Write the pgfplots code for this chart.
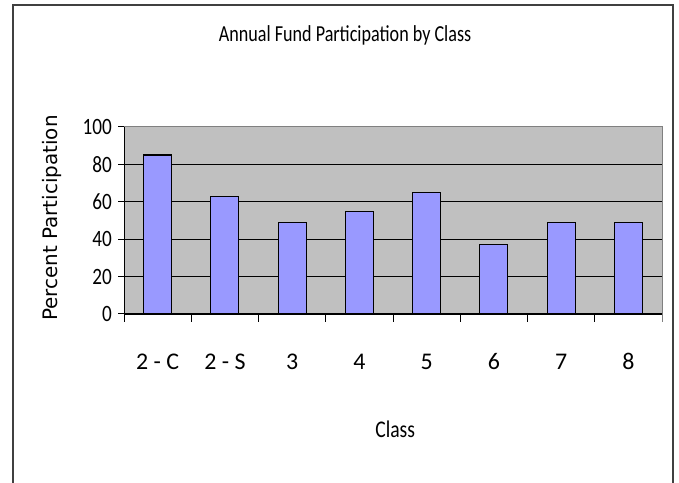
\documentclass[border=0pt]{standalone}
\usepackage{fontspec}
\setmainfont{Carlito}
\newfontfamily\condfont[FakeStretch=0.79]{Carlito}
\newfontfamily\midfont[FakeStretch=0.82]{Carlito}
\newfontfamily\verdfont{DejaVu Sans}
\usepackage{pgfplots}
\pgfplotsset{compat=1.18}
\definecolor{plotbg}{HTML}{C0C0C0}
\definecolor{barfill}{HTML}{9999FF}
\definecolor{framec}{HTML}{404040}
\begin{document}
\begin{tikzpicture}[x=1bp,y=1bp]
\useasboundingbox (0,0) rectangle (679,483);
\draw[framec, line width=2.2bp] (13,-5) -- (13,478) -- (673,478) -- (673,-5);
\begin{axis}[
  at={(124bp,169bp)}, anchor=south west,
  scale only axis, width=538bp, height=187bp,
  xmin=-0.5, xmax=7.5, ymin=0, ymax=100,
  axis x line*=bottom, axis y line*=left,
  axis line style={black, line width=1bp},
  axis background/.style={fill=plotbg, draw=gray, line width=1bp},
  xtick={0,...,7},
  xticklabels={2 - C, 2 - S, 3, 4, 5, 6, 7, 8},
  major x tick style={draw=none},
  minor xtick={-0.5,0.5,...,6.5},
  extra x ticks={7.5},
  extra x tick labels={},
  extra x tick style={major tick length=8bp, major x tick style={draw=gray, line width=1bp}},
  minor tick length=8bp,
  minor x tick style={black, line width=1bp},
  ytick={0,20,40,60,80},
  extra y ticks={100},
  extra y tick style={grid=none},
  major tick length=6bp,
  tick align=outside,
  y tick style={black, line width=1bp},
  ymajorgrids,
  major grid style={black, line width=0.9bp},
  /pgf/number format/assume math mode=true,
  xticklabel style={anchor=base, yshift=-50bp, font=\fontsize{24}{26}\selectfont},
  yticklabel style={anchor=east, inner sep=0pt, xshift=-6bp, font=\midfont\fontsize{23.5}{26}\selectfont},
  title={\condfont\fontsize{23}{26}\selectfont Annual Fund Participation by Class},
  title style={at={(axis description cs:0.411,1.425)}, anchor=base, inner sep=0pt},
  xlabel={\midfont\fontsize{24}{26}\selectfont Class},
  xlabel style={at={(axis description cs:0.504,-0.658)}, anchor=base, inner sep=0pt},
  ylabel={\verdfont\fontsize{20}{22}\selectfont Percent Participation},
  ylabel style={at={(axis description cs:-0.134,0.513)}, anchor=center, rotate=0, inner sep=0pt},
  clip=false,
]
\addplot[ybar, bar width=28bp, fill=barfill, draw=black, line width=1.2bp]
  coordinates {(0,85) (1,63) (2,49) (3,55) (4,65) (5,37) (6,49) (7,49)};
\end{axis}
\end{tikzpicture}
\end{document}
